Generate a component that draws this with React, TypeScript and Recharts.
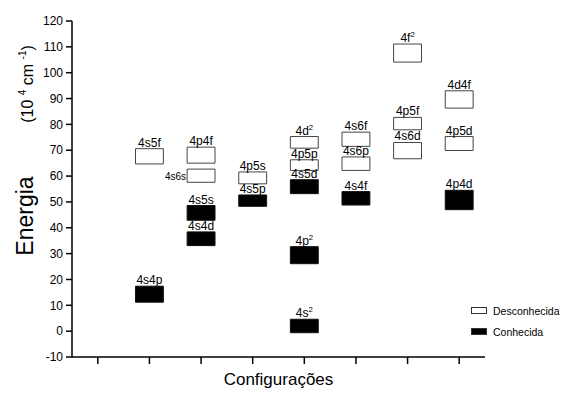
import React from "react";
import {
  ComposedChart,
  XAxis,
  YAxis,
  ReferenceArea,
  Scatter,
} from "recharts";

if (typeof document !== "undefined") document.body.style.margin = "0";

// configuration slots along x (1..8, slot 1 empty)
const xTicks = [1, 2, 3, 4, 5, 6, 7, 8];
const yTicks = [-10, 0, 10, 20, 30, 40, 50, 60, 70, 80, 90, 100, 110, 120];

// energy levels (10^4 cm^-1): name, slot, low, high, known
const levelNames = [
  "4s5f", "4s4p",
  "4p4f", "4s6s", "4s5s", "4s4d",
  "4p5s", "4s5p",
  "4d^2", "4p5p", "4s5d", "4p^2", "4s^2",
  "4s6f", "4s6p", "4s4f",
  "4f^2", "4p5f", "4s6d",
  "4d4f", "4p5d", "4p4d",
];
const levelSlot = [2, 2, 3, 3, 3, 3, 4, 4, 5, 5, 5, 5, 5, 6, 6, 6, 7, 7, 7, 8, 8, 8];
const levelLow = [
  64.7, 11.2,
  65.0, 57.6, 42.9, 33.1,
  57.0, 48.3,
  70.8, 62.2, 53.2, 26.1, -0.6,
  71.5, 62.2, 48.8,
  104.1, 77.9, 66.7,
  86.3, 69.9, 47.0,
];
const levelHigh = [
  70.6, 17.4,
  71.2, 62.7, 48.6, 38.4,
  61.6, 52.7,
  75.3, 66.3, 58.6, 32.7, 4.6,
  77.0, 67.4, 54.0,
  111.1, 82.7, 73.0,
  93.0, 75.3, 54.5,
];
const levelKnown = [
  false, true,
  false, false, true, true,
  false, true,
  false, false, true, true, true,
  false, false, true,
  false, false, false,
  false, false, true,
];

const legendLabels = ["Desconhecida", "Conhecida"];

const FONT = "'Liberation Sans', Arial, sans-serif";
const HALF = 0.27;

function Name({ name, x, y, anchor, size }: { name: string; x: number; y: number; anchor: string; size: number }) {
  const [base, sup] = name.split("^");
  return (
    <text x={x} y={y} textAnchor={anchor as any} fontSize={size} fontFamily={FONT} fill="#000">
      <tspan>{base}</tspan>
      {sup && (
        <tspan dy={-5} fontSize={size * 0.65}>
          {sup}
        </tspan>
      )}
    </text>
  );
}

function levelLabel(name: string) {
  return (props: any) => {
    const vb = props.viewBox || {};
    if (name === "4s6s") {
      return <Name name={name} x={vb.x - 1} y={vb.y + vb.height - 2} anchor="end" size={10} />;
    }
    return <Name name={name} x={vb.x + vb.width / 2} y={vb.y - 2} anchor="middle" size={12} />;
  };
}

function AxisTitle() {
  return (
    <g fontFamily={FONT} fill="#000">
      <text x={33} y={216} fontSize={23} textAnchor="middle" transform="rotate(-90 33 216)">
        Energia
      </text>
      <text x={33} y={84} fontSize={16} textAnchor="middle" transform="rotate(-90 33 84)">
        <tspan>(10 </tspan>
        <tspan dy={-7} fontSize={10}>4</tspan>
        <tspan dy={7}> cm </tspan>
        <tspan dy={-7} fontSize={10}>-1</tspan>
        <tspan dy={7}>)</tspan>
      </text>
    </g>
  );
}

function LegendBox() {
  return (
    <div style={{ position: "absolute", left: 471, top: 300 }}>
      {legendLabels.map((label, i) => (
        <div key={label} style={{ display: "flex", alignItems: "center", height: 21 }}>
          <div
            style={{
              width: 14,
              height: 5,
              background: i === 0 ? "#fff" : "#000",
              border: "1px solid #333",
              marginRight: 6,
            }}
          />
          <span style={{ fontSize: 10.5, fontFamily: FONT, color: "#000" }}>{label}</span>
        </div>
      ))}
    </div>
  );
}

export default function App() {
  return (
    <div style={{ position: "relative", width: 561, height: 394, background: "#fff" }}>
      <ComposedChart
        width={561}
        height={394}
        margin={{ top: 21, right: 76, left: 32, bottom: 7 }}
      >
        <XAxis
          type="number"
          dataKey="x"
          domain={[0.5, 8.5]}
          ticks={xTicks}
          tickFormatter={() => ""}
          tickSize={7}
          height={30}
          stroke="#000"
          strokeWidth={1.5}
          allowDataOverflow
          label={{
            value: "Configurações",
            position: "insideBottom",
            offset: 2,
            fontSize: 17,
            fontFamily: FONT,
            fill: "#000",
          }}
        />
        <YAxis
          type="number"
          dataKey="y"
          domain={[-10, 120]}
          ticks={yTicks}
          interval={0}
          width={40}
          tickSize={6}
          tickMargin={3}
          stroke="#000"
          strokeWidth={1.5}
          tick={{ fontSize: 12, fontFamily: FONT, fill: "#000" }}
          allowDataOverflow
          label={{ content: () => <AxisTitle /> }}
        />
        <Scatter data={[]} isAnimationActive={false} />
        {levelNames.map((name, i) => (
          <ReferenceArea
            key={name}
            x1={levelSlot[i] - HALF}
            x2={levelSlot[i] + HALF}
            y1={levelLow[i]}
            y2={levelHigh[i]}
            fill={levelKnown[i] ? "#000" : "#fff"}
            fillOpacity={1}
            stroke={levelKnown[i] ? "#111" : "#444"}
            strokeWidth={1}
            ifOverflow="visible"
            label={levelLabel(name)}
          />
        ))}
      </ComposedChart>
      <LegendBox />
    </div>
  );
}
